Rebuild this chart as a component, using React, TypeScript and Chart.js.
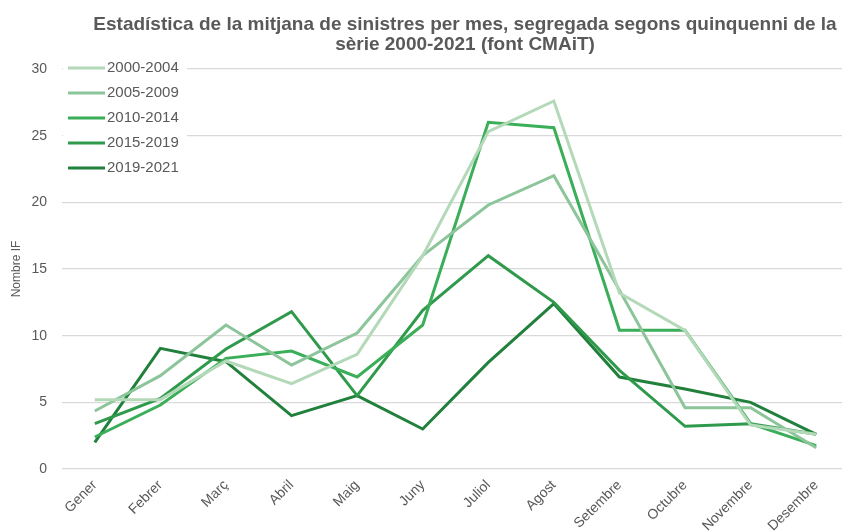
import React, { useEffect, useRef } from "react";
import { Chart, registerables } from "chart.js";

Chart.register(...registerables);

const months = ["Gener", "Febrer", "Març", "Abril", "Maig", "Juny", "Juliol", "Agost", "Setembre", "Octubre", "Novembre", "Desembre"];
const seriesNames = ["2000-2004", "2005-2009", "2010-2014", "2015-2019", "2019-2021"];
const s2000 = [5.2, 5.2, 8.1, 6.4, 8.6, 16.0, 25.3, 27.6, 13.2, 10.4, 3.3, 2.6];
const s2005 = [4.35, 7.0, 10.8, 7.8, 10.2, 16.0, 19.8, 22.0, 13.4, 4.6, 4.6, 1.6];
const s2010 = [2.4, 4.8, 8.3, 8.85, 6.9, 10.8, 26.0, 25.6, 10.4, 10.4, 3.4, 1.75];
const s2015 = [3.4, 5.3, 9.0, 11.8, 5.5, 11.9, 16.0, 12.5, 7.4, 3.2, 3.4, 2.6];
const s2019 = [2.0, 9.05, 8.05, 4.0, 5.5, 3.0, 8.0, 12.4, 6.9, 6.0, 5.0, 2.6];
const seriesColors = ["#b3d9b8", "#8cc59a", "#3aae58", "#2f9a4c", "#22803d"];
const titleLines = ["Estadística de la mitjana de sinistres per mes, segregada segons quinquenni de la", "sèrie 2000-2021 (font CMAiT)"];
const yTicks = { min: 0, max: 30, step: 5 };

const FONT = "'Liberation Sans', Arial, sans-serif";
const TEXT = "#595959";

const titlePlugin = {
  id: "customTitle",
  afterDraw(chart: any) {
    const ctx = chart.ctx;
    ctx.save();
    ctx.fillStyle = TEXT;
    ctx.font = `bold 19px ${FONT}`;
    ctx.textAlign = "center";
    ctx.textBaseline = "alphabetic";
    ctx.fillText(titleLines[0], 465, 30);
    ctx.fillText(titleLines[1], 465, 50);
    ctx.restore();
  },
};

const legendPlugin = {
  id: "customLegend",
  beforeDatasetsDraw(chart: any) {
    const ctx = chart.ctx;
    ctx.save();
    ctx.fillStyle = "#ffffff";
    ctx.fillRect(63, 57, 124, 124);
    ctx.font = `15px ${FONT}`;
    ctx.textBaseline = "middle";
    ctx.textAlign = "left";
    chart.data.datasets.forEach((ds: any, i: number) => {
      const y = 68 + i * 25;
      ctx.strokeStyle = ds.borderColor;
      ctx.lineWidth = 3;
      ctx.lineCap = "butt";
      ctx.beginPath();
      ctx.moveTo(68, y);
      ctx.lineTo(105, y);
      ctx.stroke();
      ctx.fillStyle = TEXT;
      ctx.fillText(ds.label, 107, y);
    });
    ctx.restore();
  },
};

export default function App() {
  const ref = useRef<HTMLCanvasElement>(null);
  useEffect(() => {
    if (!ref.current) return;
    Chart.defaults.font.family = FONT;
    const data = [s2000, s2005, s2010, s2015, s2019];
    const chart = new Chart(ref.current, {
      type: "line",
      data: {
        labels: months,
        datasets: seriesNames.map((name, i) => ({
          label: name,
          data: data[i],
          borderColor: seriesColors[i],
          backgroundColor: seriesColors[i],
          borderWidth: 3,
          pointRadius: 0,
          tension: 0,
          fill: false,
        })),
      },
      options: {
        animation: false,
        responsive: false,
        layout: { padding: { top: 69, left: 0, right: 1, bottom: 0 } },
        plugins: { legend: { display: false }, title: { display: false }, tooltip: { enabled: false } },
        scales: {
          x: {
            offset: true,
            grid: { display: false },
            border: { display: false },
            ticks: { color: TEXT, font: { size: 14 }, maxRotation: 45, minRotation: 45, padding: 0 },
            afterFit(scale: any) { scale.height = 63; },
          },
          y: {
            min: yTicks.min,
            max: yTicks.max,
            grid: { color: "#d9d9d9", lineWidth: 1.3, drawTicks: false },
            border: { display: false },
            ticks: { stepSize: yTicks.step, color: TEXT, font: { size: 14 }, padding: 15 },
            title: { display: true, text: "Nombre IF", color: TEXT, font: { size: 12 }, padding: { top: 9, bottom: 0 } },
            afterFit(scale: any) { scale.width = 62; },
          },
        },
      },
      plugins: [titlePlugin, legendPlugin],
    });
    return () => chart.destroy();
  }, []);
  return (
    <div style={{ position: "fixed", left: 0, top: 0, width: 842, height: 532, overflow: "hidden", background: "#fff" }}>
      <canvas ref={ref} width={850} height={532} />
    </div>
  );
}
